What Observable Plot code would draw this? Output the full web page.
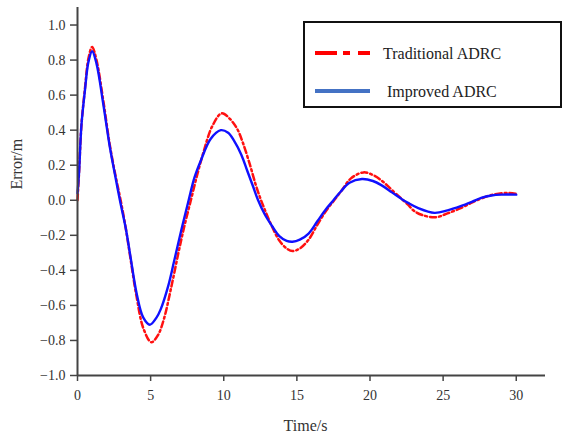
<!DOCTYPE html>
<html><head><meta charset="utf-8">
<script src="https://cdn.jsdelivr.net/npm/d3@7"></script>
<script src="https://cdn.jsdelivr.net/npm/@observablehq/plot@0.6"></script>
<style>
body{margin:0;background:#fff;}
#wrap{position:relative;width:563px;height:434px;font-family:"Liberation Serif",serif;}
#wrap svg text{font-family:"Liberation Serif",serif;}
#legend{position:absolute;left:0;top:0;}
</style></head><body><div id="wrap"></div>
<script>
const seriesNames = ["Traditional ADRC", "Improved ADRC"];
const xTicks = [0, 5, 10, 15, 20, 25, 30];
const yTicks = [-1.0, -0.8, -0.6, -0.4, -0.2, 0.0, 0.2, 0.4, 0.6, 0.8, 1.0];

const traditionalTime = [0, 0.1, 0.27, 0.5, 0.75, 1.0, 1.3, 1.76, 2.2, 2.6, 2.95, 3.3, 3.6, 4.04, 4.5, 5.05, 5.5, 5.9, 6.4, 6.9, 7.3, 7.75, 8.2, 8.6, 9.2, 9.86, 10.4, 10.9, 11.3, 11.8, 12.2, 12.55, 12.9, 13.3, 13.8, 14.3, 14.7, 15.2, 15.8, 16.4, 17.0, 17.55, 18.1, 18.7, 19.55, 20.3, 21.0, 21.6, 22.2, 22.6, 23.0, 23.6, 24.5, 25.3, 26.2, 27.0, 27.6, 28.3, 29.4, 30.0];
const traditionalError = [0.0, 0.15, 0.43, 0.63, 0.81, 0.875, 0.8, 0.57, 0.32, 0.14, 0.0, -0.16, -0.32, -0.55, -0.73, -0.81, -0.77, -0.68, -0.5, -0.3, -0.15, 0.0, 0.15, 0.27, 0.42, 0.496, 0.466, 0.41, 0.33, 0.2, 0.085, 0.0, -0.073, -0.15, -0.23, -0.275, -0.29, -0.275, -0.225, -0.14, -0.06, 0.0, 0.06, 0.125, 0.159, 0.14, 0.098, 0.05, 0.005, -0.025, -0.06, -0.085, -0.097, -0.075, -0.045, -0.012, 0.01, 0.03, 0.042, 0.037];

const improvedTime = [0, 0.1, 0.27, 0.5, 0.75, 1.0, 1.3, 1.76, 2.2, 2.6, 2.9, 3.3, 3.6, 4.04, 4.5, 4.95, 5.4, 5.7, 6.2, 6.6, 7.1, 7.6, 8.0, 8.45, 9.1, 9.8, 10.3, 10.7, 11.2, 11.6, 12.0, 12.35, 12.8, 13.3, 13.8, 14.3, 14.7, 15.2, 15.8, 16.4, 17.0, 17.5, 18.0, 18.6, 19.45, 20.2, 20.8, 21.5, 22.2, 22.6, 23.3, 24.4, 25.3, 26.2, 27.0, 27.6, 28.3, 29.0, 30.0];
const improvedError = [0.04, 0.15, 0.43, 0.62, 0.79, 0.85, 0.78, 0.55, 0.31, 0.13, 0.0, -0.16, -0.31, -0.53, -0.67, -0.71, -0.67, -0.62, -0.49, -0.35, -0.17, 0.0, 0.13, 0.23, 0.35, 0.40, 0.385, 0.34, 0.26, 0.17, 0.08, 0.0, -0.08, -0.147, -0.205, -0.232, -0.237, -0.225, -0.19, -0.12, -0.05, 0.0, 0.05, 0.1, 0.121, 0.11, 0.085, 0.045, 0.005, -0.015, -0.045, -0.072, -0.058, -0.034, -0.008, 0.013, 0.027, 0.032, 0.032];

const traditional = traditionalTime.map((t, i) => ({t, e: traditionalError[i]}));
const improved = improvedTime.map((t, i) => ({t, e: improvedError[i]}));

const fmt = d => (d < 0 ? "\u2212" : "") + Math.abs(d).toFixed(1);
const serif = "Liberation Serif";

const chart = Plot.plot({
  width: 563, height: 434,
  marginLeft: 77, marginRight: 18, marginTop: 7, marginBottom: 59,
  x: {domain: [0, 32]},
  y: {domain: [-1, 1.1]},
  style: "font-family: 'Liberation Serif', serif; font-size: 14px; color: #333; background: #fff;",
  marks: [
    Plot.line(traditional, {x: "t", y: "e", stroke: "#ff1010", strokeWidth: 2.5, strokeDasharray: "6,3,2,3", curve: "catmull-rom"}),
    Plot.line(improved, {x: "t", y: "e", stroke: "#1010ff", strokeWidth: 2.4, curve: "catmull-rom"}),
    Plot.ruleY([-1], {stroke: "#444", strokeWidth: 2}),
    Plot.ruleX([0], {stroke: "#444", strokeWidth: 2}),
    Plot.axisX({ticks: xTicks, tickFormat: d => String(d), tickSize: 6, tickPadding: 9, label: null, stroke: "#444", strokeWidth: 1.5, fill: "#333", fontFamily: serif, fontSize: 14}),
    Plot.axisY({ticks: yTicks, tickFormat: fmt, tickSize: 7, tickPadding: 5, label: null, stroke: "#444", strokeWidth: 1.5, fill: "#333", fontFamily: serif, fontSize: 14}),
    Plot.text(["Time/s"], {frameAnchor: "bottom", dy: 50, dx: -6, fontSize: 16, fontFamily: serif, fill: "#333", lineAnchor: "middle"}),
    Plot.text(["Error/m"], {frameAnchor: "left", dx: -61, dy: -2, rotate: -90, fontSize: 16, fontFamily: serif, fill: "#333", lineAnchor: "middle"})
  ]
});
const wrap = document.getElementById("wrap");
wrap.appendChild(chart);

// Legend overlay
const ns = "http://www.w3.org/2000/svg";
const leg = document.createElementNS(ns, "svg");
leg.setAttribute("id", "legend");
leg.setAttribute("width", 563);
leg.setAttribute("height", 434);
const items = [
  {name: seriesNames[0], color: "#ff0000", dash: "22,6,7,8", tx: 383, y: 53},
  {name: seriesNames[1], color: "#4472c4", dash: null, tx: 387, y: 91}
];
const box = document.createElementNS(ns, "rect");
box.setAttribute("x", 304); box.setAttribute("y", 22);
box.setAttribute("width", 257); box.setAttribute("height", 85);
box.setAttribute("fill", "#fff"); box.setAttribute("stroke", "#111"); box.setAttribute("stroke-width", 2);
leg.appendChild(box);
items.forEach(it => {
  const l = document.createElementNS(ns, "line");
  l.setAttribute("x1", 315); l.setAttribute("x2", 370);
  l.setAttribute("y1", it.y); l.setAttribute("y2", it.y);
  l.setAttribute("stroke", it.color); l.setAttribute("stroke-width", 4);
  if (it.dash) l.setAttribute("stroke-dasharray", it.dash);
  leg.appendChild(l);
  const t = document.createElementNS(ns, "text");
  t.setAttribute("x", it.tx); t.setAttribute("y", it.y);
  t.setAttribute("dy", "0.35em");
  t.setAttribute("font-family", "'Liberation Serif', serif");
  t.setAttribute("font-size", 16);
  t.setAttribute("fill", "#222");
  t.textContent = it.name;
  leg.appendChild(t);
});
wrap.appendChild(leg);
</script>
</body></html>
